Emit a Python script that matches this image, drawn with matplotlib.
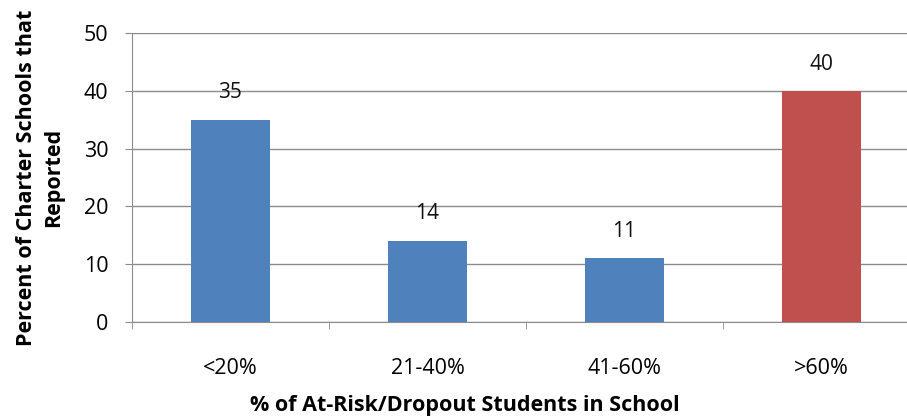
import matplotlib.pyplot as plt
import numpy as np

categories = ['<20%', '21-40%', '41-60%', '>60%']
values = [35, 14, 11, 40]
colors = ['#4F81BD', '#4F81BD', '#4F81BD', '#C0504D']
y_ticks = [0, 10, 20, 30, 40, 50]

plt.rcParams['font.family'] = ['Open Sans', 'DejaVu Sans']

fig = plt.figure(figsize=(9.07, 4.17), dpi=100)
ax = fig.add_axes([0.1455, 0.2285, 0.8688, 0.6912])

x = np.arange(len(categories))
ax.bar(x, values, width=0.4, color=colors, zorder=3)
for xi, v in zip(x, values):
    ax.text(xi, v + 4.7, str(v), ha='center', va='center', fontsize=15, color='#111111')

ax.set_xlim(-0.5, len(categories) - 0.5)
ax.set_ylim(0, 50)
ax.set_yticks(y_ticks)
ax.yaxis.grid(True, color='#8c8c8c', linewidth=1, zorder=0)

ax.set_xticks(x)
ax.set_xticklabels(categories)
ax.set_xticks(np.arange(-0.5, len(categories), 1), minor=True)
ax.tick_params(axis='x', which='major', length=0, pad=26, labelsize=15.5)
ax.tick_params(axis='x', which='minor', length=5, color='#8c8c8c')
ax.tick_params(axis='y', length=5, color='#8c8c8c', labelsize=15.5, pad=12)

for s in ['top', 'right']:
    ax.spines[s].set_visible(False)
for s in ['left', 'bottom']:
    ax.spines[s].set_color('#8c8c8c')

ax.set_xlabel('% of At-Risk/Dropout Students in School', fontsize=15.5, fontweight='bold', va='center')
ax.xaxis.set_label_coords(0.4226, -0.2917)
ax.set_ylabel('Percent of Charter Schools that\nReported', fontsize=15.5, fontweight='bold',
              va='center', linespacing=1.4)
ax.yaxis.set_label_coords(-0.1168, 0.5)

fig.savefig('out.png', dpi=100)
